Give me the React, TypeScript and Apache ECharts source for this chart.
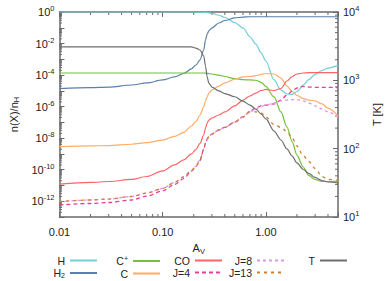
import React, { useEffect, useRef } from 'react';
import * as echarts from 'echarts';

// Visual extinction grid
const AV = [0.01, 0.02, 0.03, 0.05, 0.07, 0.1, 0.13, 0.16, 0.19, 0.21, 0.23, 0.25, 0.26, 0.27, 0.28, 0.3, 0.35, 0.4, 0.5, 0.6, 0.7, 0.8, 0.9, 1.0, 1.2, 1.4, 1.6, 1.8, 2.0, 2.3, 2.6, 3.0, 3.5, 4.0, 5.0];

const H = [1, 1, 1, 1, 1, 1, 1, 1, 1, 0.995, 0.99, 0.97, 0.95, 0.92, 0.88, 0.82, 0.62, 0.45, 0.21, 0.098, 0.027, 9.3e-3, 2.5e-3, 7.8e-4, 4.9e-5, 1.12e-5, 6.3e-6, 5.9e-6, 9.1e-6, 2.3e-5, 5.2e-5, 1.1e-4, 1.95e-4, 2.8e-4, 4.1e-4];
const H2 = [1.38e-5, 1.62e-5, 1.74e-5, 2.34e-5, 3.16e-5, 4.9e-5, 7.6e-5, 1.26e-4, 2.45e-4, 4.37e-4, 9.1e-4, 3.9e-3, 1.66e-2, 3.98e-2, 6.3e-2, 9.8e-2, 0.2, 0.29, 0.42, 0.48, 0.5, 0.5, 0.5, 0.5, 0.5, 0.5, 0.5, 0.5, 0.5, 0.5, 0.5, 0.5, 0.5, 0.5, 0.5];
const CPLUS = [1.35e-4, 1.35e-4, 1.35e-4, 1.35e-4, 1.35e-4, 1.35e-4, 1.35e-4, 1.35e-4, 1.35e-4, 1.35e-4, 1.35e-4, 1.35e-4, 1.32e-4, 1.29e-4, 1.25e-4, 1.17e-4, 1.0e-4, 8.1e-5, 5.9e-5, 5.1e-5, 4.9e-5, 4.7e-5, 3.4e-5, 1.9e-5, 4.1e-6, 4.6e-7, 5.1e-8, 5.8e-9, 8.5e-10, 1.48e-10, 4.3e-11, 2.4e-11, 1.78e-11, 1.78e-11, 1.9e-11];
const C = [2.9e-9, 3.2e-9, 3.4e-9, 4.1e-9, 5.2e-9, 7.6e-9, 1.29e-8, 2.3e-8, 5.9e-8, 1.15e-7, 2.95e-7, 9.5e-7, 2.3e-6, 4.1e-6, 7.2e-6, 1.12e-5, 2.0e-5, 3.2e-5, 5.6e-5, 7.6e-5, 8.1e-5, 9.3e-5, 1.1e-4, 1.26e-4, 1.17e-4, 6.5e-5, 2.0e-5, 9.1e-6, 5.1e-6, 3.2e-6, 2.6e-6, 2.3e-6, 1.48e-6, 8.1e-7, 2.6e-7];
const CO = [1.23e-11, 1.55e-11, 1.78e-11, 2.4e-11, 3.7e-11, 8.3e-11, 2.0e-10, 4.2e-10, 1.0e-9, 1.9e-9, 4.6e-9, 1.58e-8, 4.4e-8, 9.1e-8, 1.41e-7, 1.9e-7, 2.95e-7, 4.6e-7, 1.1e-6, 2.6e-6, 4.7e-6, 7.2e-6, 1.05e-5, 1.23e-5, 1.05e-5, 1.41e-5, 4.2e-5, 8.1e-5, 1.17e-4, 1.35e-4, 1.41e-4, 1.41e-4, 1.41e-4, 1.41e-4, 1.41e-4];
const J4 = [5.8e-13, 7.2e-13, 8.3e-13, 1.2e-12, 2.1e-12, 4.5e-12, 1.15e-11, 2.75e-11, 7.8e-11, 1.58e-10, 3.8e-10, 2.0e-9, 4.9e-9, 8.9e-9, 1.29e-8, 1.82e-8, 3.3e-8, 4.8e-8, 1.05e-7, 2.2e-7, 5.2e-7, 8.1e-7, 1.1e-6, 1.26e-6, 1.48e-6, 2.6e-6, 5.5e-6, 9.8e-6, 1.51e-5, 1.9e-5, 1.74e-5, 1.66e-5, 1.66e-5, 1.66e-5, 1.62e-5];
const J8 = [9.5e-13, 1.2e-12, 1.38e-12, 2.0e-12, 3.3e-12, 6.5e-12, 1.55e-11, 3.5e-11, 8.9e-11, 1.7e-10, 4.2e-10, 2.0e-9, 4.9e-9, 8.9e-9, 1.29e-8, 1.82e-8, 3.3e-8, 4.8e-8, 1.05e-7, 2.2e-7, 4.6e-7, 7.1e-7, 1.02e-6, 1.26e-6, 1.7e-6, 2.3e-6, 2.6e-6, 2.8e-6, 2.8e-6, 2.3e-6, 1.7e-6, 1.1e-6, 7.1e-7, 4.6e-7, 2.2e-7];
const J13 = [9.5e-13, 1.2e-12, 1.38e-12, 2.0e-12, 3.3e-12, 6.5e-12, 1.55e-11, 3.5e-11, 8.9e-11, 1.7e-10, 4.2e-10, 2.0e-9, 4.9e-9, 8.9e-9, 1.29e-8, 1.82e-8, 3.3e-8, 4.8e-8, 1.05e-7, 2.2e-7, 4.6e-7, 4.6e-7, 4.0e-7, 2.2e-7, 7.4e-8, 4.8e-8, 2.6e-8, 1.02e-8, 3.2e-9, 7.9e-10, 3.3e-10, 1.2e-10, 3.7e-11, 2.4e-11, 2.1e-11];
const T = [3080, 3080, 3080, 3080, 3080, 3080, 3080, 3080, 3080, 2970, 2780, 2270, 1620, 1120, 912, 796, 700, 640, 575, 495, 435, 380, 322, 272, 181, 134, 99, 78, 62, 50, 43.6, 37.9, 34.2, 32.5, 31.5];

const X_TICKS = [0.01, 0.1, 1];

const FONT = 'Liberation Sans, Arial, Helvetica, sans-serif';
const TXT = '#222';
const AXC = '#6a6a6a';

const LEG_NAMES: Record<string, string> = {
  'H': 'H',
  'H2': 'H{sub|2}',
  'C+': 'C{sup|+}',
  'C': 'C',
  'CO': 'CO',
  'J=4': 'J=4',
  'J=8': 'J=8',
  'J=13': 'J=13',
  'T': 'T',
};

function pairs(ys: number[]) {
  return AV.map((x, i) => [x, ys[i]]);
}

const expLabel = (v: number, onlyEven: boolean) => {
  const e = Math.round(Math.log10(v));
  if (onlyEven && e % 2 !== 0) return '';
  return `{b|10}{s|${e}}`;
};

const expRich = {
  b: { fontSize: 11, color: TXT, fontFamily: FONT },
  s: { fontSize: 7.5, color: TXT, fontFamily: FONT, padding: [0, 0, 7, 0] },
};

export default function App() {
  const ref = useRef<HTMLDivElement>(null);
  useEffect(() => {
    if (!ref.current) return;
    const chart = echarts.init(ref.current, null, { renderer: 'svg' });
    const mk = (name: string, data: number[], color: string, yAxisIndex = 0, type: any = 'solid', width = 1.2) => ({
      name,
      type: 'line',
      data: pairs(data),
      yAxisIndex,
      smooth: 0.3,
      smoothMonotone: 'x',
      showSymbol: false,
      symbol: 'none',
      lineStyle: { color, width, type },
      itemStyle: { color },
      z: 3,
    });
    const legendBase = {
      top: 255,
      orient: 'vertical',
      align: 'right',
      itemWidth: 27,
      itemHeight: 8,
      itemGap: 1,
      padding: 0,
      selectedMode: false,
      itemStyle: { opacity: 0 },
      formatter: (n: string) => LEG_NAMES[n] ?? n,
      textStyle: {
        fontSize: 10.5,
        color: TXT,
        fontFamily: FONT,
        width: 24,
        align: 'right',
        lineHeight: 8,
        rich: {
          sub: { fontSize: 7, fontFamily: FONT, color: TXT, lineHeight: 8, padding: [5, 0, 0, 0] },
          sup: { fontSize: 7, fontFamily: FONT, color: TXT, lineHeight: 8, padding: [0, 0, 5, 0] },
        },
      },
    };
    const grid = { left: 50, right: 47, top: 12, bottom: 64 };
    chart.setOption({
      animation: false,
      backgroundColor: '#fff',
      textStyle: { fontFamily: FONT },
      grid,
      legend: [
        { ...legendBase, left: 41, data: ['H', 'H2'] },
        { ...legendBase, left: 104, data: ['C+', 'C'] },
        { ...legendBase, left: 166, data: ['CO', 'J=4'] },
        { ...legendBase, left: 228, data: ['J=8', 'J=13'] },
        { ...legendBase, left: 291, data: ['T'] },
      ],
      xAxis: [
        {
          type: 'log',
          logBase: 10,
          min: 0.01,
          max: 5,
          position: 'bottom',
          name: 'A{sub|V}',
          nameLocation: 'middle',
          nameGap: 24,
          nameTextStyle: {
            fontSize: 11, color: TXT, fontFamily: FONT,
            rich: { sub: { fontSize: 7.5, color: TXT, fontFamily: FONT, padding: [6, 0, 0, 0] } },
          },
          axisLine: { show: true, lineStyle: { color: AXC, width: 1.5 } },
          axisTick: { show: true, inside: true, length: 5, lineStyle: { color: AXC } },
          axisLabel: {
            fontSize: 11, color: TXT, fontFamily: FONT, margin: 9,
            formatter: (v: number) => (X_TICKS.some((t) => Math.abs(t - v) / t < 1e-6) ? v.toFixed(2) : ''),
          },
          splitLine: { show: false },
        },
        {
          type: 'log',
          logBase: 10,
          min: 0.01,
          max: 5,
          position: 'top',
          axisLine: { show: true, lineStyle: { color: AXC, width: 1.5 } },
          axisTick: { show: true, inside: true, length: 5, lineStyle: { color: AXC } },
          axisLabel: { show: false },
          splitLine: { show: false },
        },
      ],
      yAxis: [
        {
          type: 'log',
          logBase: 10,
          min: 1e-13,
          max: 1,
          interval: 1,
          position: 'left',
          name: 'n(X)/n{sub|H}',
          nameLocation: 'middle',
          nameRotate: 90,
          nameGap: 34,
          nameTextStyle: {
            fontSize: 11, color: TXT, fontFamily: FONT,
            rich: { sub: { fontSize: 7.5, color: TXT, fontFamily: FONT, padding: [6, 0, 0, 0] } },
          },
          axisLine: { show: true, lineStyle: { color: AXC, width: 1.5 } },
          axisTick: { show: true, inside: true, length: 5, lineStyle: { color: AXC } },
          axisLabel: { margin: 5, formatter: (v: number) => expLabel(v, true), rich: expRich },
          splitLine: { show: false },
        },
        {
          type: 'log',
          logBase: 10,
          min: 10,
          max: 10000,
          interval: 1,
          position: 'right',
          name: 'T [K]',
          nameLocation: 'middle',
          nameRotate: 90,
          nameGap: 33,
          nameTextStyle: { fontSize: 11, color: TXT, fontFamily: FONT },
          axisLine: { show: true, lineStyle: { color: AXC, width: 1.5 } },
          axisTick: { show: true, inside: true, length: 5, lineStyle: { color: AXC } },
          axisLabel: { margin: 5, formatter: (v: number) => expLabel(v, false), rich: expRich },
          splitLine: { show: false },
        },
      ],
      series: [
        mk('H', H, '#72cfd6'),
        mk('H2', H2, '#5a7fa8'),
        mk('C+', CPLUS, '#72c23a'),
        mk('C', C, '#ffad63'),
        mk('CO', CO, '#ff6464'),
        mk('J=4', J4, '#e6409a', 0, [4, 3], 1.3),
        mk('J=8', J8, '#df95e6', 0, [3, 3], 1.3),
        mk('J=13', J13, '#cf812f', 0, [3, 4], 1.3),
        mk('T', T, '#6e6e6e', 1),
      ],
    });

    // minor log ticks drawn at axis positions given by the chart's own scales
    const g: any[] = [];
    const xl = chart.convertToPixel({ xAxisIndex: 0 }, 0.01) as number;
    const xr = chart.convertToPixel({ xAxisIndex: 0 }, 5) as number;
    const yb = chart.convertToPixel({ yAxisIndex: 0 }, 1e-13) as number;
    const yt = chart.convertToPixel({ yAxisIndex: 0 }, 1) as number;
    const st = { stroke: AXC, lineWidth: 1 };
    for (let e = -2; e <= 0; e++) {
      for (let k = 2; k <= 9; k++) {
        const v = k * Math.pow(10, e);
        if (v > 5) continue;
        const px = chart.convertToPixel({ xAxisIndex: 0 }, v) as number;
        g.push({ type: 'line', silent: true, shape: { x1: px, y1: yb, x2: px, y2: yb - 3 }, style: st });
        g.push({ type: 'line', silent: true, shape: { x1: px, y1: yt, x2: px, y2: yt + 3 }, style: st });
      }
    }
    for (let e = -13; e <= -1; e++) {
      for (let k = 2; k <= 9; k++) {
        const py = chart.convertToPixel({ yAxisIndex: 0 }, k * Math.pow(10, e)) as number;
        g.push({ type: 'line', silent: true, shape: { x1: xl, y1: py, x2: xl + 2.5, y2: py }, style: st });
      }
    }
    for (let e = 1; e <= 3; e++) {
      for (let k = 2; k <= 9; k++) {
        const py = chart.convertToPixel({ yAxisIndex: 1 }, k * Math.pow(10, e)) as number;
        g.push({ type: 'line', silent: true, shape: { x1: xr, y1: py, x2: xr - 3, y2: py }, style: st });
      }
    }
    chart.setOption({ graphic: g });

    return () => chart.dispose();
  }, []);
  return <div ref={ref} style={{ position: 'absolute', left: 0, top: 0, width: 390, height: 281 }} />;
}
